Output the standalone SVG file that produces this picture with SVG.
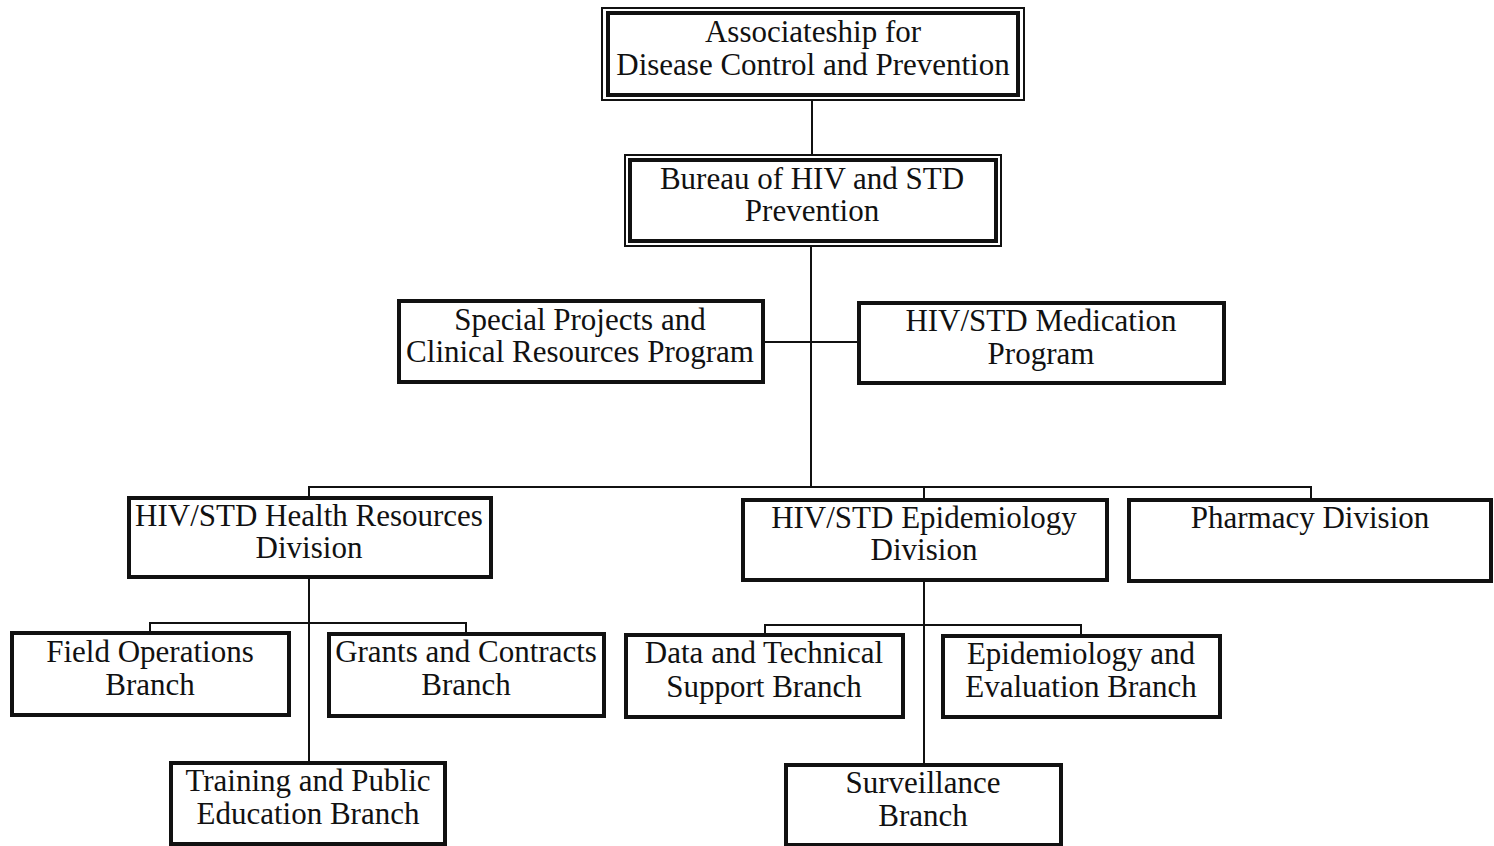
<svg xmlns="http://www.w3.org/2000/svg" width="1494" height="846" viewBox="0 0 1494 846">
<style>
.bx{fill:#fff;stroke:#111;stroke-width:4}
.thin{fill:#fff;stroke:#111;stroke-width:2}
.c{fill:none;stroke:#111;stroke-width:2}
text{font-family:"Liberation Serif","Times New Roman",serif;font-size:31px;fill:#111;text-anchor:middle}
</style>
<rect width="1494" height="846" fill="#fff"/>
<g id="connectors">
<path class="c" d="M812 100V155"/>
<path class="c" d="M811 246V487"/>
<path class="c" d="M763 342H859"/>
<path class="c" d="M309 498V487H1311V500M924 487V500"/>
<path class="c" d="M309 577V763M150 633V623H466V634"/>
<path class="c" d="M924 580V765M765 635V625H1081V636"/>
</g>
<g id="associateship">
<rect class="thin" x="602" y="8" width="422" height="92"/>
<rect class="bx" x="608" y="13" width="410" height="82"/>
<text x="813" y="42">Associateship for</text>
<text x="813" y="75">Disease Control and Prevention</text>
</g>
<g id="bureau">
<rect class="thin" x="625" y="155" width="376" height="91"/>
<rect class="bx" x="630" y="160" width="366" height="81"/>
<text x="812" y="189">Bureau of HIV and STD</text>
<text x="812" y="221">Prevention</text>
</g>
<g id="special">
<rect class="bx" x="399" y="301" width="364" height="81"/>
<text x="580" y="330">Special Projects and</text>
<text x="580" y="362">Clinical Resources Program</text>
</g>
<g id="medication">
<rect class="bx" x="859" y="303" width="365" height="80"/>
<text x="1041" y="331">HIV/STD Medication</text>
<text x="1041" y="364">Program</text>
</g>
<g id="health">
<rect class="bx" x="129" y="498" width="362" height="79"/>
<text x="309" y="526">HIV/STD Health Resources</text>
<text x="309" y="558">Division</text>
</g>
<g id="epidiv">
<rect class="bx" x="743" y="500" width="364" height="80"/>
<text x="924" y="528">HIV/STD Epidemiology</text>
<text x="924" y="560">Division</text>
</g>
<g id="pharmacy">
<rect class="bx" x="1129" y="500" width="362" height="81"/>
<text x="1310" y="528">Pharmacy Division</text>
</g>
<g id="field">
<rect class="bx" x="12" y="633" width="277" height="82"/>
<text x="150" y="662">Field Operations</text>
<text x="150" y="695">Branch</text>
</g>
<g id="grants">
<rect class="bx" x="329" y="634" width="275" height="82"/>
<text x="466" y="662">Grants and Contracts</text>
<text x="466" y="695">Branch</text>
</g>
<g id="data">
<rect class="bx" x="626" y="635" width="277" height="82"/>
<text x="764" y="663">Data and Technical</text>
<text x="764" y="697">Support Branch</text>
</g>
<g id="epieval">
<rect class="bx" x="943" y="636" width="277" height="81"/>
<text x="1081" y="664">Epidemiology and</text>
<text x="1081" y="697">Evaluation Branch</text>
</g>
<g id="training">
<rect class="bx" x="171" y="763" width="274" height="81"/>
<text x="308" y="791">Training and Public</text>
<text x="308" y="824">Education Branch</text>
</g>
<g id="surveillance">
<rect class="bx" x="786" y="765" width="275" height="80"/>
<text x="923" y="793">Surveillance</text>
<text x="923" y="826">Branch</text>
</g>
</svg>
